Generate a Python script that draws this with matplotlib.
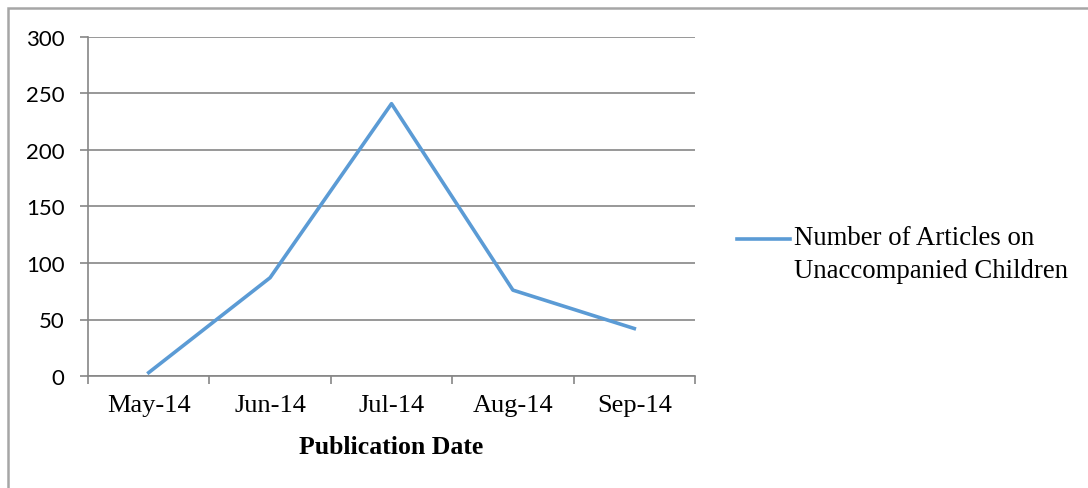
import matplotlib.pyplot as plt
import numpy as np
from matplotlib.patches import Rectangle

plt.rcParams['font.family'] = ['Liberation Serif', 'DejaVu Serif']

# 数据
months = ['May-14', 'Jun-14', 'Jul-14', 'Aug-14', 'Sep-14']
articles = [3, 87, 241, 76, 42]
x = np.arange(len(months))

fig = plt.figure(figsize=(10.88, 4.89), dpi=100)
ax = fig.add_axes([88 / 1088, 1 - 377 / 489, (695 - 88) / 1088, (377 - 38) / 489])

ax.plot(x, articles, color='#5B9BD5', linewidth=2.6,
        label='Number of Articles on\nUnaccompanied Children')

ax.set_xlim(-0.5, 4.5)
ax.set_ylim(0, 300)
ax.set_yticks(range(0, 301, 50))
ax.set_yticklabels([str(v) for v in range(0, 301, 50)], family='Lato', fontsize=16)
ax.set_xticks(x)
ax.set_xticklabels(months, fontsize=19)
ax.set_xticks(np.arange(-0.5, 4.6, 1), minor=True)
ax.tick_params(axis='x', which='major', length=0, pad=13)
ax.tick_params(axis='x', which='minor', length=6, width=1.2, color='#868686')
ax.tick_params(axis='y', length=6, width=1.2, color='#868686', pad=11)
ax.grid(True, axis='y', color='#868686', linewidth=1.2)
ax.set_axisbelow(True)
for s in ['top', 'right']:
    ax.spines[s].set_visible(False)
for s in ['left', 'bottom']:
    ax.spines[s].set_color('#868686')
    ax.spines[s].set_linewidth(1.2)

ax.set_xlabel('Publication Date', fontsize=18.5, fontweight='bold', labelpad=14)

leg = ax.legend(loc='center left', bbox_to_anchor=(737 / 1088, 1 - 255 / 489),
                bbox_transform=fig.transFigure, frameon=False, fontsize=19.3,
                handlelength=1.98, handletextpad=0.15, borderpad=0, borderaxespad=0)
for t in leg.get_texts():
    t.set_linespacing(1.4)
# 图例线与第一行对齐
hl = leg.get_lines()[0]
hl.set_ydata(np.asarray(hl.get_ydata()) + 11)

# 外框
fig.patches.append(Rectangle((8 / 1088, -0.01), 1.02 - 8 / 1088, 1.01 - 9 / 489,
                             transform=fig.transFigure, fill=False,
                             edgecolor='#A6A6A6', linewidth=1.8))

fig.savefig('out.png', dpi=100)
